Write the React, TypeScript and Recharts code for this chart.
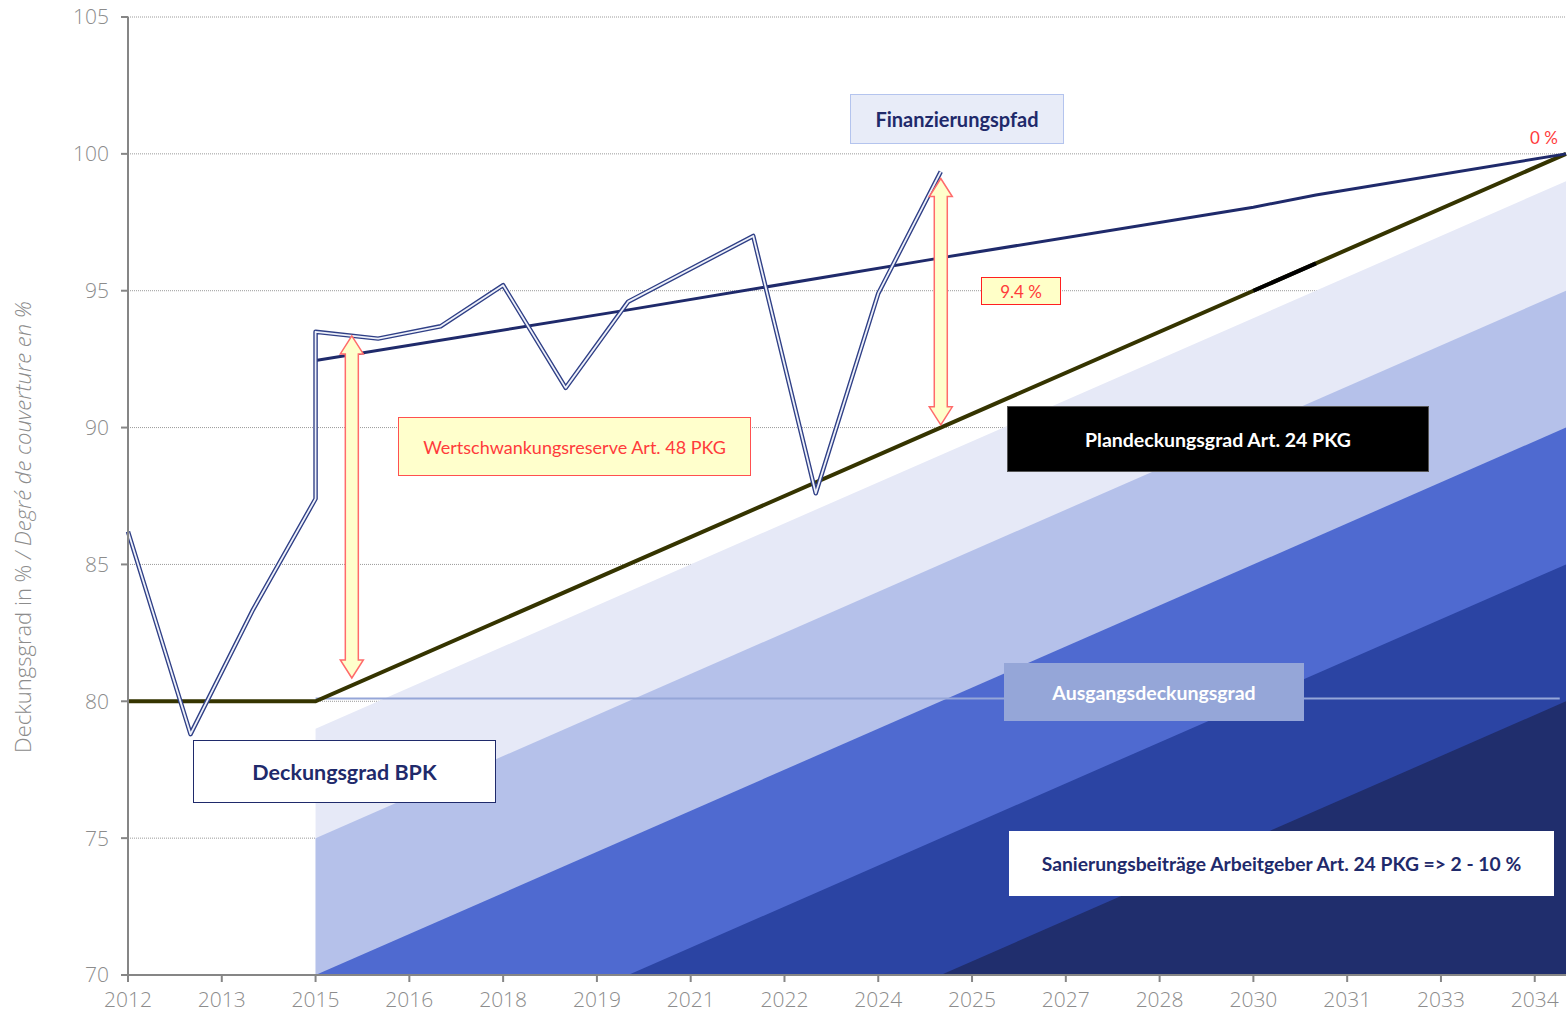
import React from "react";
import { ComposedChart, Line, Area, XAxis, YAxis, CartesianGrid, ReferenceLine } from "recharts";

// achsen
const X_TICKS = [2012, 2013.5, 2015, 2016.5, 2018, 2019.5, 2021, 2022.5, 2024, 2025.5, 2027, 2028.5, 2030, 2031.5, 2033, 2034.5];
const Y_TICKS = [70, 75, 80, 85, 90, 95, 100, 105];

// Deckungsgrad BPK (Ist-Werte, 2015 doppelt wegen Sprung)
const bpkYears = [2012, 2013, 2014, 2015, 2015, 2016, 2017, 2018, 2019, 2020, 2022, 2023, 2024, 2025];
const bpkValues = [86.2, 78.8, 83.35, 87.4, 93.5, 93.25, 93.7, 95.2, 91.45, 94.6, 97.0, 87.6, 94.9, 99.35];

// Finanzierungspfad
const finYears = [2015, 2020, 2025, 2030, 2031, 2035];
const finValues = [92.45, 94.3, 96.2, 98.05, 98.5, 100];

// Plandeckungsgrad Art. 24 PKG
const planYears = [2012, 2015, 2035];
const planValues = [80, 80, 100];
const planBlackYears = [2030, 2031];
const planBlackValues = [95, 96];

// Ausgangsdeckungsgrad
const startYears = [2015, 2034.9];
const startValues = [80.1, 80.1];

// Sanierungsbänder (Oberkante 2015 / 2035)
const bandYears = [2015, 2035];
const band1 = [79, 99];
const band2 = [75, 95];
const band3 = [70, 90];
const band4 = [65, 85];
const band5 = [60, 80];

// Doppelpfeile (Wertschwankungsreserve, 9.4 %)
const arrowX = [2015.58, 2025];
const arrowLow = [80.85, 90.1];
const arrowHigh = [93.35, 99.1];

const toData = (xs: number[], ys: number[]) => xs.map((year, i) => ({ year, v: ys[i] }));

const bpkData = toData(bpkYears, bpkValues);
const finData = toData(finYears, finValues);
const planData = toData(planYears, planValues);
const planBlackData = toData(planBlackYears, planBlackValues);
const startData = toData(startYears, startValues);
const bands = [
  { data: toData(bandYears, band1), fill: "#e6e9f7" },
  { data: toData(bandYears, band2), fill: "#b5c1ea" },
  { data: toData(bandYears, band3), fill: "#4f6ad0" },
  { data: toData(bandYears, band4), fill: "#2b44a3" },
  { data: toData(bandYears, band5), fill: "#202e6d" },
];

const NAVY = "#1f2a6b";
const TICK = { fill: "#8c8c8c", fontSize: 21, fontFamily: "'Open Sans'", fontWeight: 300 };

function ArrowShape(props: any) {
  const { x1, y1, y2 } = props;
  const top = Math.min(y1, y2);
  const bot = Math.max(y1, y2);
  const sw = 6.5, hw = 11.5, hl = 18;
  const pts = [
    [x1, top], [x1 + hw, top + hl], [x1 + sw, top + hl], [x1 + sw, bot - hl], [x1 + hw, bot - hl],
    [x1, bot], [x1 - hw, bot - hl], [x1 - sw, bot - hl], [x1 - sw, top + hl], [x1 - hw, top + hl],
  ].map((p) => p.join(",")).join(" ");
  return <polygon points={pts} fill="#ffffcc" stroke="#ff6b6b" strokeWidth={1.5} />;
}

function Box({ left, top, width, height, bg, border, color, size, bold, children }: any) {
  return (
    <div
      style={{
        position: "absolute", left, top, width, height, boxSizing: "border-box",
        background: bg, border: border ? `1.5px solid ${border}` : "none",
        color, fontSize: size, fontWeight: bold ? 700 : 400, fontFamily: "Lato",
        display: "flex", alignItems: "center", justifyContent: "center", whiteSpace: "nowrap",
      }}
    >
      {children}
    </div>
  );
}

export default function App() {
  return (
    <div style={{ position: "absolute", left: 0, top: 0, width: 1568, height: 1013, background: "#fff" }}>
      <ComposedChart width={1568} height={1013} margin={{ top: 17, right: 2, bottom: 8, left: 0 }}>
        <CartesianGrid vertical={false} stroke="#9a9a9a" strokeDasharray="1 1" />
        <XAxis
          type="number" dataKey="year" domain={[2012, 2035]} ticks={X_TICKS} tickFormatter={(v) => String(Math.floor(v))}
          height={30} tickSize={7} tickMargin={10} tick={TICK}
          axisLine={{ stroke: "#868686", strokeWidth: 2 }} tickLine={{ stroke: "#868686", strokeWidth: 2 }}
        />
        <YAxis
          type="number" domain={[70, 105]} ticks={Y_TICKS} allowDataOverflow width={128}
          tickSize={7} tickMargin={12} tick={TICK}
          axisLine={{ stroke: "#868686", strokeWidth: 2 }} tickLine={{ stroke: "#868686", strokeWidth: 2 }}
        />
        {bands.map((b, i) => (
          <Area key={i} data={b.data} dataKey="v" type="linear" fill={b.fill} fillOpacity={1} stroke="none" isAnimationActive={false} activeDot={false} />
        ))}
        <Line data={startData} dataKey="v" type="linear" stroke="#95a6d8" strokeWidth={2} dot={false} activeDot={false} isAnimationActive={false} />
        <Line data={planData} dataKey="v" type="linear" stroke="#353400" strokeWidth={4} dot={false} activeDot={false} isAnimationActive={false} />
        <Line data={planBlackData} dataKey="v" type="linear" stroke="#000000" strokeWidth={4} dot={false} activeDot={false} isAnimationActive={false} />
        <Line data={finData} dataKey="v" type="linear" stroke={NAVY} strokeWidth={3} dot={false} activeDot={false} isAnimationActive={false} />
        <Line data={bpkData} dataKey="v" type="linear" stroke="#2f3f86" strokeWidth={4.5} strokeLinejoin="round" dot={false} activeDot={false} isAnimationActive={false} />
        <Line data={bpkData} dataKey="v" type="linear" stroke="#eef1fa" strokeWidth={1.8} strokeLinejoin="round" dot={false} activeDot={false} isAnimationActive={false} />
        {arrowX.map((x, i) => (
          <ReferenceLine key={i} segment={[{ x, y: arrowLow[i] }, { x, y: arrowHigh[i] }]} shape={ArrowShape} />
        ))}
      </ComposedChart>

      <div
        style={{
          position: "absolute", left: 22, top: 527, width: 700, transform: "translate(-50%, -50%) rotate(-90deg)",
          textAlign: "center", color: "#8c8c8c", fontSize: 22, fontFamily: "'Open Sans'", fontWeight: 300, whiteSpace: "nowrap",
        }}
      >
        Deckungsgrad in % <i>/ Degré de couverture en %</i>
      </div>

      <Box left={850} top={94} width={214} height={50} bg="#e8ecf8" border="#b4c4ee" color={NAVY} size={20} bold>Finanzierungspfad</Box>
      <div style={{ position: "absolute", left: 1530, top: 127, color: "#ff3b3b", fontSize: 17, fontFamily: "Lato" }}>0 %</div>
      <Box left={981} top={277} width={80} height={28} bg="#ffffc8" border="#ff2020" color="#ff3b3b" size={17}>9.4 %</Box>
      <Box left={398} top={417} width={353} height={59} bg="#ffffcc" border="#ff5050" color="#ff3b3b" size={18}>Wertschwankungsreserve Art. 48 PKG</Box>
      <Box left={1007} top={406} width={422} height={66} bg="#000" border="#555" color="#fff" size={19.5} bold>Plandeckungsgrad Art. 24 PKG</Box>
      <Box left={1004} top={663} width={300} height={58} bg="#95a6d8" color="#fff" size={19.5} bold>Ausgangsdeckungsgrad</Box>
      <Box left={193} top={740} width={303} height={63} bg="#fff" border={NAVY} color={NAVY} size={21.5} bold>Deckungsgrad BPK</Box>
      <Box left={1009} top={831} width={545} height={65} bg="#fff" color={NAVY} size={19.3} bold>Sanierungsbeiträge Arbeitgeber Art. 24 PKG =&gt; 2 - 10 %</Box>
    </div>
  );
}
